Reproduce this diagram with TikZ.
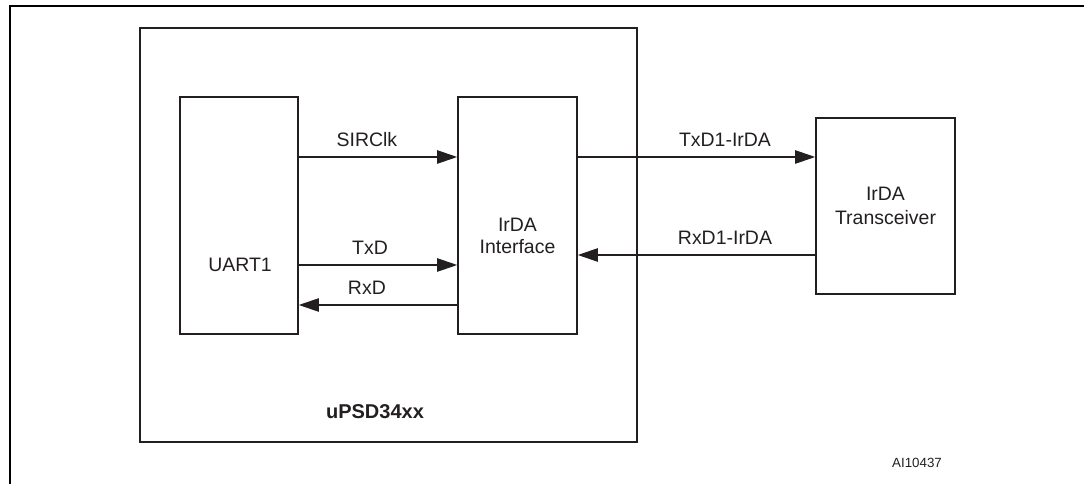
\documentclass[tikz,border=0pt]{standalone}
\usepackage{fontspec}
\setmainfont{Liberation Sans}
\usetikzlibrary{arrows.meta, positioning}
\definecolor{stInk}{HTML}{231F20}
\tikzset{
  frameline/.style = {line width=1.5pt, black},
  blk/.style       = {rectangle, draw=stInk, line width=1.2pt, inner sep=0pt},
  sig/.style       = {-{Triangle[length=15pt, width=10pt]}, line width=1pt, stInk},
  sigtxt/.style    = {anchor=base, yshift=7.5pt, inner sep=0pt, text=stInk,
                      font=\fontsize{14.6}{17}\selectfont},
  boxtxt/.style    = {text=stInk, align=center, font=\fontsize{14.6}{17}\selectfont},
}

\begin{document}
\begin{tikzpicture}[x=0.75pt, y=-0.75pt]
  \useasboundingbox (0,0) rectangle (1084,484);
  % page frame
  \draw[frameline] (10,484) -- (10,6) -- (1084,6);
  % blocks
  \node[blk, minimum width=372.75pt, minimum height=310.5pt] (mcu)  at (388.5,235) {};
  \node[blk, minimum width=88.5pt,   minimum height=177.75pt] (uart) at (239,215.5) {};
  \node[blk, minimum width=89.25pt,  minimum height=177.75pt] (irda) at (517.5,215.5) {};
  \node[blk, minimum width=104.25pt, minimum height=132pt, boxtxt,
        font=\fontsize{14.6}{18}\selectfont] (xcvr) at (885.5,206) {IrDA\\Transceiver};
  \node[boxtxt] (uartlbl) at (240,265) {UART1};
  \node[boxtxt] (irdalbl) at (517.5,236) {IrDA\\Interface};
  \node[boxtxt, font=\fontsize{15}{18}\bfseries] (mculbl) at (375,412) {uPSD34xx};
  \node[text=stInk, font=\fontsize{10}{12}\selectfont] (figid) at (917,463) {AI10437};
  % signal levels
  \coordinate (ySIR) at (0,157);
  \coordinate (yTxD) at (0,265);
  \coordinate (yRxD) at (0,305);
  \coordinate (yTxI) at (0,157);
  \coordinate (yRxI) at (0,255);
  % signals
  \draw[sig] (uart.east |- ySIR) -- node[sigtxt, pos=.43] {SIRClk} (irda.west |- ySIR);
  \draw[sig] (uart.east |- yTxD) -- node[sigtxt, pos=.45] {TxD} (irda.west |- yTxD);
  \draw[sig] (irda.west |- yRxD) -- node[sigtxt, pos=.57] {RxD} (uart.east |- yRxD);
  \draw[sig] (irda.east |- yTxI) -- node[sigtxt, pos=.62] {TxD1-IrDA} (xcvr.west |- yTxI);
  \draw[sig] (xcvr.west |- yRxI) -- node[sigtxt, pos=.38] {RxD1-IrDA} (irda.east |- yRxI);
\end{tikzpicture}
\end{document}
